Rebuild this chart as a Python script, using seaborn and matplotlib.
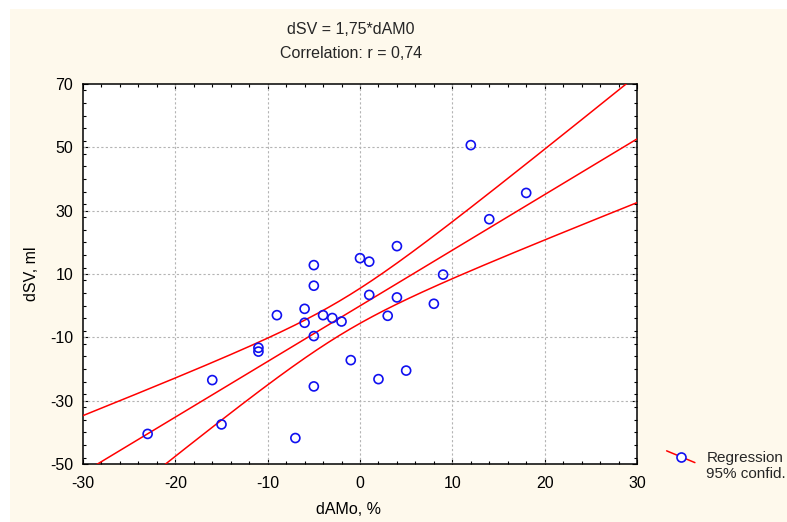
import numpy as np
import matplotlib
matplotlib.use("Agg")
import matplotlib.pyplot as plt
from matplotlib.lines import Line2D
from matplotlib.legend_handler import HandlerBase
from matplotlib.patches import Rectangle
from matplotlib.ticker import MultipleLocator
import seaborn as sns

# --- Data ---
damo = [-23, -16, -15, -11, -11, -9, -7, -6, -6, -5, -5, -5, -5, -4, -3,
        -2, -1, 0, 1, 1, 2, 3, 4, 4, 5, 8, 9, 12, 14, 18]
dsv = [-40.5, -23.5, -37.5, -13.3, -14.5, -3.0, -41.8, -1.0, -5.4, 12.8,
       6.3, -9.6, -25.5, -3.0, -3.9, -5.0, -17.2, 15.0, 13.9, 3.4, -23.2,
       -3.2, 18.8, 2.6, -20.5, 0.6, 9.8, 50.7, 27.3, 35.6]
x_ticks = [-30, -20, -10, 0, 10, 20, 30]
y_ticks = [-50, -30, -10, 10, 30, 50, 70]
title_lines = ["dSV = 1,75*dAM0", "Correlation: r = 0,74"]

sns.set_theme(style="ticks")
plt.rcParams["font.family"] = ["Liberation Sans", "DejaVu Sans"]
plt.rcParams["axes.unicode_minus"] = False

FS = 11.5
fig = plt.figure(figsize=(7.87, 5.22), dpi=100, facecolor="white")
# cream panel behind everything
fig.patches.append(Rectangle((10 / 787, 0), 1, 1 - 9 / 522, transform=fig.transFigure,
                             facecolor="#FEF9EC", edgecolor="none", zorder=-10))
ax = fig.add_axes([83 / 787, 1 - 464 / 522, 554 / 787, 380 / 522])
ax.set_facecolor("white")
ax.set_xlim(-30, 30)
ax.set_ylim(-50, 70)

# points
sns.scatterplot(x=damo, y=dsv, ax=ax, marker="o", s=42, facecolor="none",
                edgecolor="#1010F0", linewidth=1.2, zorder=4)

# regression line over the full x range
sns.regplot(x=np.array(damo, float), y=np.array(dsv, float), ax=ax, scatter=False,
            ci=None, truncate=False, color="red", line_kws={"lw": 1.1, "zorder": 3})

# 95% confidence band drawn as lines
xa = np.array(damo, float)
ya = np.array(dsv, float)
n = len(xa)
b, a = np.polyfit(xa, ya, 1)
resid = ya - (a + b * xa)
s = np.sqrt(np.sum(resid ** 2) / (n - 2))
sxx = np.sum((xa - xa.mean()) ** 2)
t = 2.048  # t(0.975, 28)
grid = np.linspace(-30, 30, 200)
half = t * s * np.sqrt(1 / n + (grid - xa.mean()) ** 2 / sxx)
ax.plot(grid, a + b * grid + half, color="red", lw=1.1, zorder=3)
ax.plot(grid, a + b * grid - half, color="red", lw=1.1, zorder=3)

ax.set_xlim(-30, 30)
ax.set_ylim(-50, 70)
ax.set_xticks(x_ticks)
ax.set_yticks(y_ticks)
ax.xaxis.set_minor_locator(MultipleLocator(2))
ax.yaxis.set_minor_locator(MultipleLocator(4))
ax.tick_params(which="both", direction="in", top=True, right=True, colors="black",
               width=0.8)
ax.tick_params(which="major", length=3.5, labelsize=FS, pad=7)
ax.tick_params(which="minor", length=2.5)
ax.tick_params(axis="x", which="major", pad=9)
for sp in ax.spines.values():
    sp.set_visible(True)
    sp.set_color("black")
    sp.set_linewidth(1.1)
# interior dotted grid only
ax.grid(False)
for gx in x_ticks[1:-1]:
    ax.axvline(gx, color="#b4b4b4", lw=0.8, ls=(0, (2, 2)), zorder=1)
for gy in y_ticks[1:-1]:
    ax.axhline(gy, color="#b4b4b4", lw=0.8, ls=(0, (2, 2)), zorder=1)

ax.set_xlabel("dAMo, %", fontsize=FS, color="black")
ax.set_ylabel("dSV, ml", fontsize=FS, color="black")
ax.xaxis.set_label_coords((349 - 83) / 554, (464 - 510) / 380)
ax.yaxis.set_label_coords((32 - 83) / 554, 0.5)
for lab in (ax.xaxis.label, ax.yaxis.label):
    lab.set_va("center")

fig.text(351 / 787, 1 - 29 / 522, title_lines[0], ha="center", va="center", fontsize=FS)
fig.text(351 / 787, 1 - 53 / 522, title_lines[1], ha="center", va="center", fontsize=FS)


class SlopedHandler(HandlerBase):
    # sloped red line with a circle, sitting next to the first text line
    def create_artists(self, legend, orig_handle, xdescent, ydescent, width, height,
                       fontsize, trans):
        dy = 0.6 * fontsize
        ln = Line2D([-xdescent, width - xdescent],
                    [height * 1.05 - ydescent + dy, -0.05 * height - ydescent + dy],
                    color="red", lw=1.1, transform=trans)
        mk = Line2D([width / 2 - xdescent], [height / 2 - ydescent + dy], marker="o", ms=6.5,
                    mfc="white", mec="#1010F0", mew=1.2, ls="none", transform=trans)
        return [ln, mk]


handle = Line2D([], [], color="red")
fig.legend([handle], ["Regression\n95% confid."], handler_map={Line2D: SlopedHandler()},
           loc="upper left", bbox_to_anchor=(659 / 787, 1 - 443 / 522), frameon=False,
           fontsize=11, borderpad=0, handlelength=1.85, handletextpad=0.75)

fig.savefig("out.png", dpi=100, facecolor="white")
